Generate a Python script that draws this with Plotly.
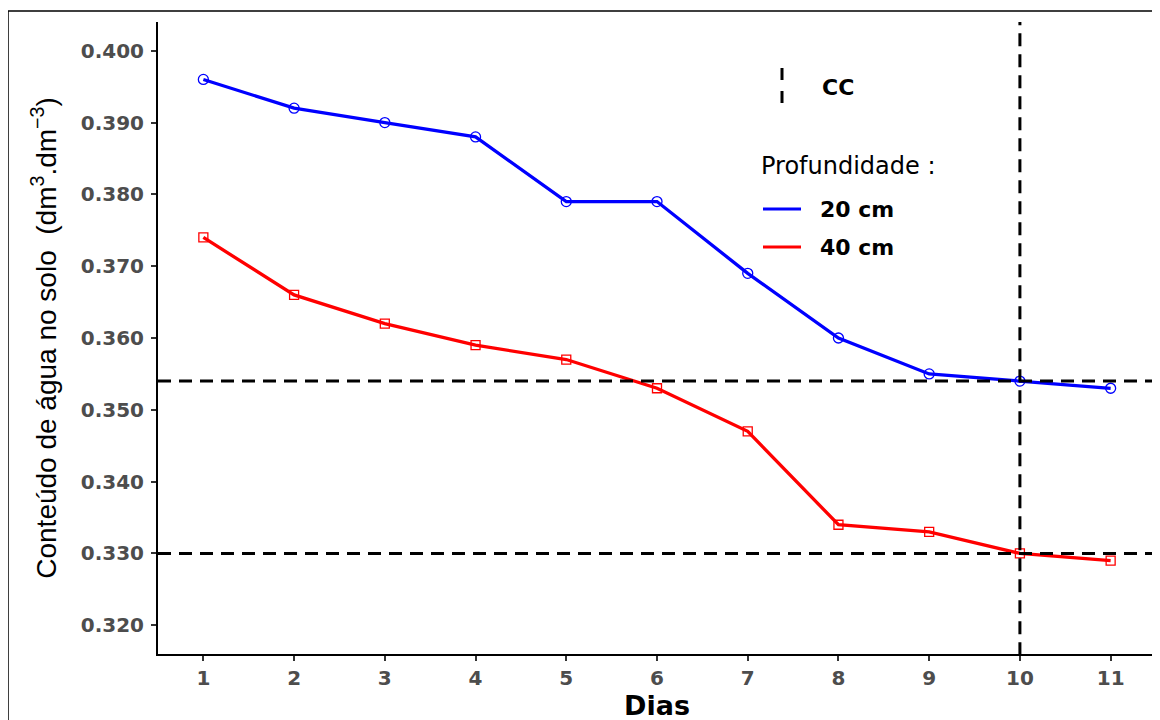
import plotly.graph_objects as go

# ---- data ----
dias = [1, 2, 3, 4, 5, 6, 7, 8, 9, 10, 11]
prof_20cm = [0.396, 0.392, 0.390, 0.388, 0.379, 0.379, 0.369, 0.360, 0.355, 0.354, 0.353]
prof_40cm = [0.374, 0.366, 0.362, 0.359, 0.357, 0.353, 0.347, 0.334, 0.333, 0.330, 0.329]
cc_values = [0.354, 0.330]
cc_dia = 10
y_ticks = [0.32, 0.33, 0.34, 0.35, 0.36, 0.37, 0.38, 0.39, 0.40]
y_ticktext = ["0.320", "0.330", "0.340", "0.350", "0.360", "0.370", "0.380", "0.390", "0.400"]

# page offset (body margin) and figure geometry
O = 8
W, H = 1160, 720
L, T = 150, 14
PW, PH = 998, 632
R = W - L - PW
B = H - T - PH


def px(x):
    """page pixel x -> paper coordinate"""
    return (x - O - L) / PW


def py(y):
    """page pixel y -> paper coordinate"""
    return (T + PH - (y - O)) / PH


TICKFONT = dict(family="DejaVu Sans", size=20, color="#4D4D4D", weight="bold")

fig = go.Figure()
fig.add_trace(go.Scatter(
    x=dias, y=prof_20cm, mode="lines+markers", name="20 cm",
    line=dict(color="#0000FF", width=3.3),
    marker=dict(symbol="circle-open", size=10, color="#0000FF", line=dict(width=1.3)),
    showlegend=False,
))
fig.add_trace(go.Scatter(
    x=dias, y=prof_40cm, mode="lines+markers", name="40 cm",
    line=dict(color="#FF0000", width=3.3),
    marker=dict(symbol="square-open", size=9, color="#FF0000", line=dict(width=1.3)),
    showlegend=False,
))

DASH = "13px,8px"
for v in cc_values:
    fig.add_shape(type="line", xref="paper", x0=0, x1=1.02, yref="y", y0=v, y1=v,
                  line=dict(color="black", width=3, dash=DASH), layer="above")
fig.add_shape(type="line", xref="x", x0=cc_dia, x1=cc_dia, yref="paper", y0=-0.002, y1=1.0,
              line=dict(color="black", width=3, dash=DASH), layer="above")

# outer frame
fig.add_shape(type="rect", xref="paper", yref="paper",
              x0=px(8), x1=px(1220), y0=py(780), y1=py(11),
              line=dict(color="black", width=1.5), layer="above")

# legend (manual)
fig.add_shape(type="line", xref="paper", yref="paper",
              x0=px(782), x1=px(782), y0=py(68), y1=py(105),
              line=dict(color="black", width=3, dash="12px,11px"))
fig.add_annotation(xref="paper", yref="paper", x=px(820), y=py(87), text="<b>CC</b>",
                   showarrow=False, xanchor="left", yanchor="middle",
                   font=dict(family="DejaVu Sans", size=22, color="black"))
fig.add_annotation(xref="paper", yref="paper", x=px(759), y=py(166), text="Profundidade :",
                   showarrow=False, xanchor="left", yanchor="middle",
                   font=dict(family="DejaVu Sans", size=24, color="black"))
for yy, col, lab in [(209, "#0000FF", "20 cm"), (247, "#FF0000", "40 cm")]:
    fig.add_shape(type="line", xref="paper", yref="paper",
                  x0=px(763), x1=px(801), y0=py(yy), y1=py(yy),
                  line=dict(color=col, width=3))
    fig.add_annotation(xref="paper", yref="paper", x=px(818), y=py(yy), text="<b>" + lab + "</b>",
                       showarrow=False, xanchor="left", yanchor="middle",
                       font=dict(family="DejaVu Sans", size=22, color="black"))

fig.update_layout(
    width=W, height=H,
    margin=dict(l=L, r=R, t=T, b=B, autoexpand=False),
    paper_bgcolor="white", plot_bgcolor="white",
    showlegend=False,
)
fig.update_xaxes(
    range=[0.5, 11.5], tickvals=dias, ticktext=[str(d) for d in dias],
    showline=True, linecolor="black", linewidth=2, mirror=False,
    ticks="outside", ticklen=5, tickwidth=1.5, tickcolor="#333333",
    showgrid=False, zeroline=False, tickfont=TICKFONT,
    title=dict(text="<b>Dias</b>", standoff=4,
               font=dict(family="DejaVu Sans", size=27, color="black")),
)
fig.update_yaxes(
    range=[0.316, 0.404], tickvals=y_ticks, ticktext=y_ticktext,
    showline=True, linecolor="black", linewidth=2,
    ticks="outside", ticklen=5, tickwidth=1.5, tickcolor="#333333",
    ticklabelstandoff=3,
    showgrid=False, zeroline=False, tickfont=TICKFONT,
    title=dict(text="Conteúdo de água no solo  (dm<sup>3</sup>.dm<sup>−3</sup>)", standoff=16,
               font=dict(family="Liberation Sans Narrow, Liberation Sans", size=28, color="black")),
)

fig.write_html("out.html")
